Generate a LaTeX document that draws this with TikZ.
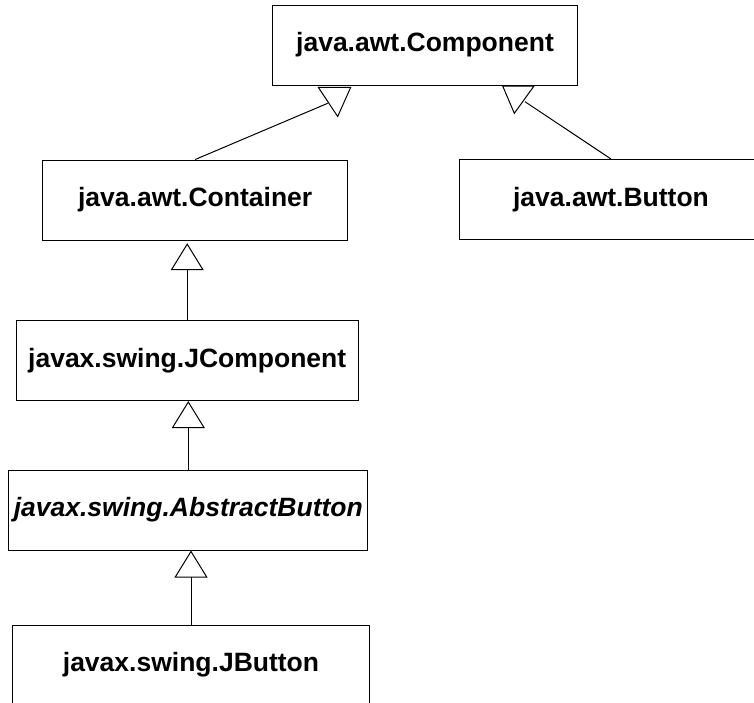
\documentclass[tikz,border=0pt]{standalone}
\usepackage{fontspec}
\setmainfont{Liberation Sans}
\usetikzlibrary{arrows.meta}
\tikzset{
  classbox/.style={draw, line width=1pt, fill=white, inner sep=0pt,
    font=\fontsize{26.5}{30}\selectfont\bfseries},
  inh/.style={line width=1pt,
    -{Triangle[width=33pt,length=27pt,fill=white]}},
  head/.style={draw, line width=1pt, fill=white, line join=miter},
  link/.style={line width=1pt}
}
\begin{document}
\begin{tikzpicture}[x=1pt,y=-1pt]
  \fill[white] (0,0) rectangle (754,702);
  \clip (0,0) rectangle (754,702);

  % class boxes
  \node[classbox, minimum width=304.6pt, minimum height=80pt] (comp) at (425,45) {java.awt.Component};
  \node[classbox, minimum width=305pt, minimum height=80pt] (cont) at (195.2,200) {java.awt.Container};
  \node[classbox, minimum width=303.4pt, minimum height=80pt] (btn) at (611,199.5) {java.awt.Button};
  \node[classbox, minimum width=342.3pt, minimum height=80.5pt] (jcomp) at (187.2,360.3) {javax.swing.JComponent};
  \node[classbox, minimum width=358.7pt, minimum height=80pt] (abs) at (188.3,510) {\itshape javax.swing.AbstractButton};
  \node[classbox, minimum width=356.6pt, minimum height=80pt] (jbtn) at (191,665) {javax.swing.JButton};

  % generalisation heads below java.awt.Component
  \coordinate (la) at (318.3,87.3);
  \coordinate (lb) at (350.7,87.3);
  \coordinate (lc) at (337.7,116.5);
  \coordinate (lend) at (327.7,103.3);
  \coordinate (ra) at (502.7,86);
  \coordinate (rb) at (534,86);
  \coordinate (rc) at (514.3,113.3);
  \coordinate (rend) at (525,101.7);

  \draw[link] (cont.north) -- (lend);
  \draw[head] (la) -- (lb) -- (lc) -- cycle;
  \draw[link] (btn.north) -- (rend);
  \draw[head] (ra) -- (rb) -- (rc) -- cycle;

  % vertical generalisations
  \draw[inh] (jcomp.north) -- ([yshift=-2.7pt]jcomp.north |- cont.south);
  \draw[inh] (abs.north) -- (abs.north |- jcomp.south);
  \draw[inh] (jbtn.north) -- (jbtn.north |- abs.south);
\end{tikzpicture}
\end{document}
